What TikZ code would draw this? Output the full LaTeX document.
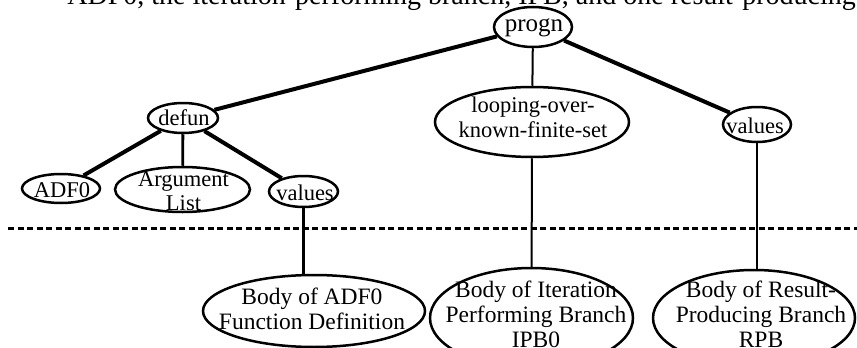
\documentclass[tikz,border=0pt]{standalone}
\usepackage{fontspec}
\setmainfont{Liberation Serif}
\usetikzlibrary{shapes.geometric}
\begin{document}
\begin{tikzpicture}[x=1pt,y=-1pt,
  ell/.style={draw, ellipse, line width=2.5pt, inner sep=0pt},
  txt/.style={align=center, inner sep=0pt, font=\fontsize{22.5}{24.5}\selectfont},
  btxt/.style={align=center, inner sep=0pt, font=\fontsize{23.5}{25}\selectfont},
  thickline/.style={line width=4pt},
  midline/.style={line width=2.8pt},
  thinline/.style={line width=2pt},
  dashline/.style={line width=3pt, dash pattern=on 6pt off 3.5pt}]
\useasboundingbox (0,0) rectangle (857,348);
% cut-off text line at the top
\node[anchor=base east, inner sep=0pt, font=\fontsize{28}{30}\selectfont] (toptext) at (856,5) {ADF0, the iteration-performing branch, IPB, and one result-producing};
% ellipses
\node[ell, minimum width=78pt, minimum height=40pt] (progn) at (533,27) {};
\node[ell, minimum width=70pt, minimum height=30pt] (defun) at (183,118) {};
\node[ell, minimum width=194pt, minimum height=70pt] (loop) at (532,122) {};
\node[ell, minimum width=68pt, minimum height=35pt] (valR) at (757,124.5) {};
\node[ell, minimum width=78pt, minimum height=29pt] (adf) at (61,188.5) {};
\node[ell, minimum width=135pt, minimum height=45pt] (arg) at (182.5,189.5) {};
\node[ell, minimum width=69pt, minimum height=31pt] (valL) at (303.5,191.5) {};
\node[ell, minimum width=222pt, minimum height=72pt] (bodyA) at (314,311) {};
\node[ell, minimum width=203pt, minimum height=100pt] (bodyI) at (531.5,318) {};
\node[ell, minimum width=202pt, minimum height=96pt] (bodyR) at (754,318) {};
% texts
\node[txt, font=\fontsize{25}{27}\selectfont] (prognt) at (534,28) {progn};
\node[txt] (defunt) at (184,117.5) {defun};
\node[txt] (loopt) at (533,117.5) {looping-over-\\known-finite-set};
\node[txt] (valRt) at (755,126) {values};
\node[txt] (adft) at (62,190) {ADF0};
\node[txt] (argt) at (183.5,191) {Argument\\List};
\node[txt] (valLt) at (305,192.5) {values};
\node[btxt] (bodyAt) at (312,309) {Body of ADF0\\Function Definition};
\node[btxt] (bodyIt) at (536,314) {Body of Iteration\\Performing Branch\\IPB0};
\node[btxt] (bodyRt) at (761,314) {Body of Result-\\Producing Branch\\RPB};
% connectors
\draw[thickline] (progn) -- (defun);
\draw[thinline] (progn) -- (loop);
\draw[thickline] (progn) -- (valR);
\draw[thickline] (defun) -- (adf);
\draw[midline] (defun) -- (arg);
\draw[thickline] (defun) -- (valL);
\draw[midline] (valL.south) -- (valL.south |- bodyA.north);
\draw[thinline] (loop) -- (bodyI);
\draw[midline] (valR.south) -- (valR.south |- bodyR.north);
% dashed separator
\coordinate (dashL) at (8,228);
\coordinate (dashR) at (857,228);
\draw[dashline] (dashL) -- (dashR);
\end{tikzpicture}
\end{document}
